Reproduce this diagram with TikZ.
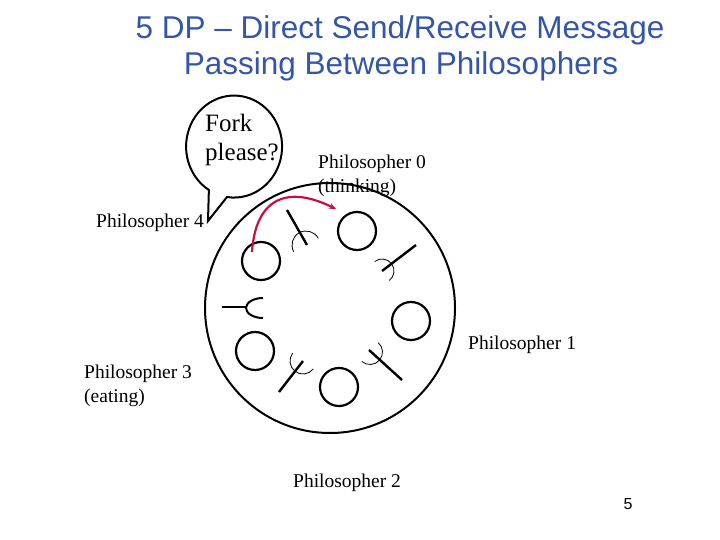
\documentclass[tikz,border=0pt]{standalone}
\usepackage{fontspec}
\setmainfont{Liberation Serif}
\newfontfamily\titlefont{Liberation Sans}
\usetikzlibrary{arrows.meta}
\definecolor{titleblue}{RGB}{51,85,170}
\definecolor{msgred}{RGB}{200,16,64}
\tikzset{
  plate/.style={circle,draw,line width=2.2pt,minimum size=38pt,inner sep=0pt},
  tablebox/.style={circle,draw,line width=2pt,minimum size=250pt,inner sep=0pt},
  handle/.style={line width=2.4pt},
  tines/.style={line width=0.8pt},
  lbl/.style={anchor=base west,inner sep=0pt,font=\fontsize{19.5}{24}\selectfont},
  ttl/.style={anchor=base,inner sep=0pt,text=titleblue,font=\titlefont\fontsize{31.5}{37}\selectfont},
  msg/.style={msgred,line width=2.2pt,-{Stealth[length=7pt,width=6pt]}}
}
\begin{document}
\begin{tikzpicture}[x=1pt,y=-1pt]
\useasboundingbox (0,0) rectangle (720,540);
% title
\node[ttl] (t1) at (400,39) {5 DP – Direct Send/Receive Message};
\node[ttl] (t2) at (401,75) {Passing Between Philosophers};
% table and plates
\node[tablebox] (table) at (330,308) {};
\node[plate] (p0) at (357,231) {};
\node[plate] (p1) at (411,321) {};
\node[plate] (p2) at (339,387) {};
\node[plate] (p3) at (255,351) {};
\node[plate] (p4) at (261,261) {};
% forks
\draw[handle] (287,210) -- (307,245);
\draw[tines] (306,245) ++(-208.5:14) arc[start angle=-208.5,end angle=-28.5,radius=14];
\draw[handle] (416,245) -- (382,271);
\draw[tines] (382,271) ++(-127.4:12) arc[start angle=-127.4,end angle=52.6,radius=12];
\draw[handle] (279,392) -- (303,361);
\draw[tines] (303,361) ++(37.7:13) arc[start angle=37.7,end angle=217.7,radius=13];
\draw[handle] (402,380) -- (369,350);
\draw[tines] (370,352) ++(-48.8:12.5) arc[start angle=-48.8,end angle=131.2,radius=12.5];
\draw[handle] (222,307) -- (246,307);
\draw[line width=2pt] (263,318) arc[start angle=90,end angle=270,x radius=17,y radius=10];
% speech bubble
\draw[line width=2pt,line join=miter] (227,197) arc[start angle=98.5,end angle=-238.3,x radius=48,y radius=51]
  -- (208,221) -- cycle;
\node[anchor=base west,inner sep=0pt,font=\fontsize{25}{29}\selectfont] (fork1) at (205,132) {Fork};
\node[anchor=base west,inner sep=0pt,font=\fontsize{25}{29}\selectfont] (fork2) at (205,161) {please?};
% labels
\node[lbl] (l0a) at (318,169) {Philosopher 0};
\node[lbl] (l0b) at (318,193) {(thinking)};
\node[lbl] (l4) at (96,228) {Philosopher 4};
\node[lbl] (l1) at (468,349) {Philosopher 1};
\node[lbl] (l3a) at (84,378) {Philosopher 3};
\node[lbl] (l3b) at (84,402) {(eating)};
\node[lbl] (l2) at (293,487) {Philosopher 2};
% message arrow
\coordinate (m4) at (252,252);
\coordinate (m0) at (336,209);
\draw[msg] (m4) .. controls (255,205) and (281,182) .. (m0);
% page number
\node[anchor=base,inner sep=0pt,font=\titlefont\fontsize{16}{19}\selectfont] (pg) at (628,509) {5};
\end{tikzpicture}
\end{document}
